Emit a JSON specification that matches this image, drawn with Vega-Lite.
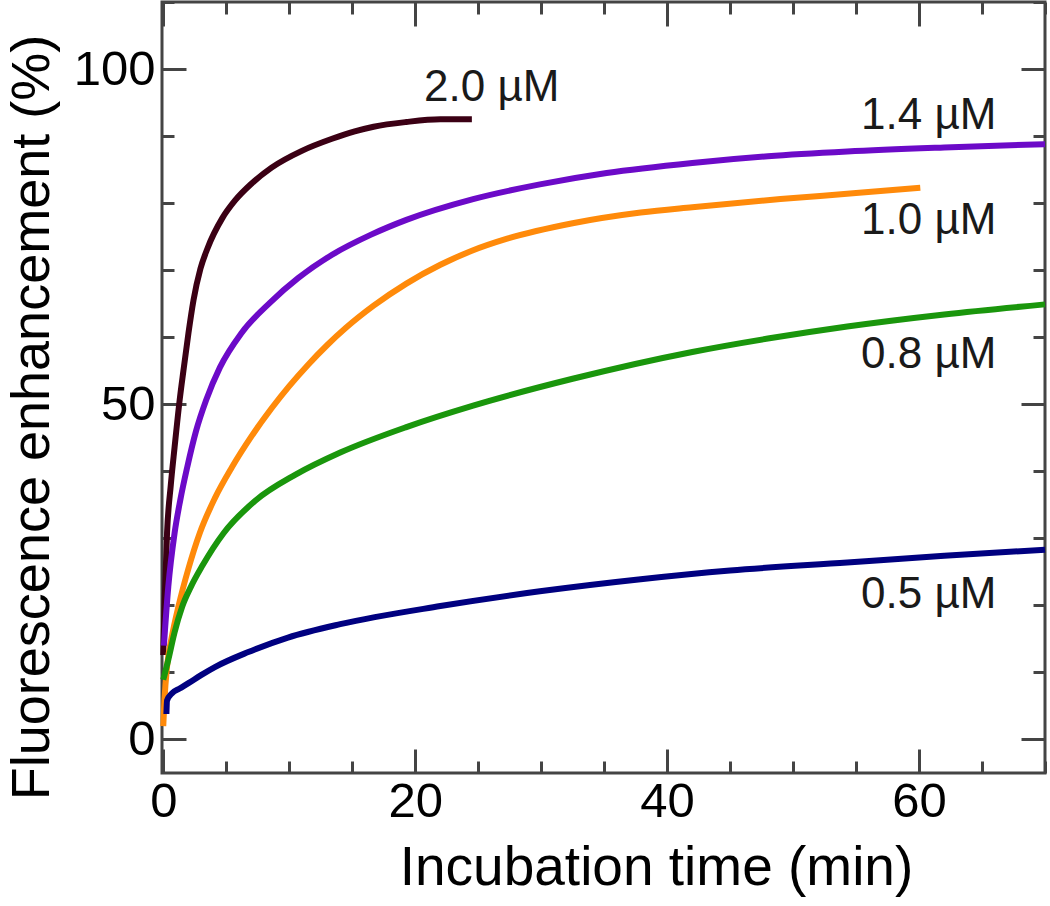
{
  "$schema": "https://vega.github.io/schema/vega-lite/v6.json",
  "width": 883,
  "height": 771,
  "autosize": "none",
  "padding": {"left": 162, "top": 2, "right": 5, "bottom": 133},
  "background": "white",
  "config": {
    "view": {"stroke": "#444444", "strokeWidth": 3},
    "axis": {
      "grid": false,
      "domain": false,
      "tickColor": "#444444",
      "tickWidth": 3,
      "labelFont": "Liberation Sans",
      "labelFontSize": 49,
      "labelColor": "#000000",
      "titleFont": "Liberation Sans",
      "titleFontSize": 55,
      "titleFontWeight": "normal",
      "titleColor": "#000000"
    }
  },
  "datasets": {
    "curves": [
      {"conc": "2.0 µM", "t": 0.0, "v": 12.6},
      {"conc": "2.0 µM", "t": 0.1, "v": 20.0},
      {"conc": "2.0 µM", "t": 0.3, "v": 30.8},
      {"conc": "2.0 µM", "t": 0.6, "v": 38.0},
      {"conc": "2.0 µM", "t": 0.9, "v": 43.6},
      {"conc": "2.0 µM", "t": 1.3, "v": 50.6},
      {"conc": "2.0 µM", "t": 1.6, "v": 55.0},
      {"conc": "2.0 µM", "t": 2.0, "v": 60.6},
      {"conc": "2.0 µM", "t": 2.4, "v": 65.5},
      {"conc": "2.0 µM", "t": 2.95, "v": 70.2},
      {"conc": "2.0 µM", "t": 3.5, "v": 73.2},
      {"conc": "2.0 µM", "t": 4.7, "v": 77.8},
      {"conc": "2.0 µM", "t": 5.7, "v": 80.4},
      {"conc": "2.0 µM", "t": 7.0, "v": 82.9},
      {"conc": "2.0 µM", "t": 8.6, "v": 85.3},
      {"conc": "2.0 µM", "t": 11.0, "v": 87.8},
      {"conc": "2.0 µM", "t": 13.4, "v": 89.6},
      {"conc": "2.0 µM", "t": 15.2, "v": 90.7},
      {"conc": "2.0 µM", "t": 16.7, "v": 91.4},
      {"conc": "2.0 µM", "t": 19.3, "v": 92.1},
      {"conc": "2.0 µM", "t": 22.0, "v": 92.5},
      {"conc": "2.0 µM", "t": 24.5, "v": 92.5},

      {"conc": "1.4 µM", "t": 0.05, "v": 14.0},
      {"conc": "1.4 µM", "t": 0.4, "v": 22.8},
      {"conc": "1.4 µM", "t": 0.9, "v": 30.8},
      {"conc": "1.4 µM", "t": 1.35, "v": 35.7},
      {"conc": "1.4 µM", "t": 1.9, "v": 40.6},
      {"conc": "1.4 µM", "t": 2.6, "v": 46.0},
      {"conc": "1.4 µM", "t": 3.4, "v": 50.6},
      {"conc": "1.4 µM", "t": 4.5, "v": 55.5},
      {"conc": "1.4 µM", "t": 6.2, "v": 60.6},
      {"conc": "1.4 µM", "t": 8.5, "v": 65.2},
      {"conc": "1.4 µM", "t": 10.7, "v": 68.8},
      {"conc": "1.4 µM", "t": 13.4, "v": 72.3},
      {"conc": "1.4 µM", "t": 16.5, "v": 75.3},
      {"conc": "1.4 µM", "t": 19.3, "v": 77.5},
      {"conc": "1.4 µM", "t": 24.6, "v": 80.6},
      {"conc": "1.4 µM", "t": 29.9, "v": 82.8},
      {"conc": "1.4 µM", "t": 35.2, "v": 84.5},
      {"conc": "1.4 µM", "t": 42.0, "v": 86.0},
      {"conc": "1.4 µM", "t": 48.0, "v": 87.0},
      {"conc": "1.4 µM", "t": 54.3, "v": 87.7},
      {"conc": "1.4 µM", "t": 62.0, "v": 88.3},
      {"conc": "1.4 µM", "t": 70.0, "v": 88.8},

      {"conc": "1.0 µM", "t": 0.0, "v": 2.0},
      {"conc": "1.0 µM", "t": 0.1, "v": 6.0},
      {"conc": "1.0 µM", "t": 0.3, "v": 10.9},
      {"conc": "1.0 µM", "t": 0.7, "v": 15.5},
      {"conc": "1.0 µM", "t": 1.2, "v": 19.8},
      {"conc": "1.0 µM", "t": 2.0, "v": 25.5},
      {"conc": "1.0 µM", "t": 2.9, "v": 30.8},
      {"conc": "1.0 µM", "t": 4.1, "v": 36.0},
      {"conc": "1.0 µM", "t": 5.45, "v": 40.6},
      {"conc": "1.0 µM", "t": 7.0, "v": 45.2},
      {"conc": "1.0 µM", "t": 8.6, "v": 49.4},
      {"conc": "1.0 µM", "t": 10.0, "v": 52.7},
      {"conc": "1.0 µM", "t": 11.5, "v": 55.9},
      {"conc": "1.0 µM", "t": 13.0, "v": 58.8},
      {"conc": "1.0 µM", "t": 14.5, "v": 61.4},
      {"conc": "1.0 µM", "t": 16.7, "v": 64.7},
      {"conc": "1.0 µM", "t": 19.3, "v": 68.0},
      {"conc": "1.0 µM", "t": 22.0, "v": 70.8},
      {"conc": "1.0 µM", "t": 24.5, "v": 72.9},
      {"conc": "1.0 µM", "t": 27.3, "v": 74.7},
      {"conc": "1.0 µM", "t": 32.5, "v": 77.0},
      {"conc": "1.0 µM", "t": 37.9, "v": 78.6},
      {"conc": "1.0 µM", "t": 42.0, "v": 79.4},
      {"conc": "1.0 µM", "t": 49.0, "v": 80.6},
      {"conc": "1.0 µM", "t": 55.0, "v": 81.5},
      {"conc": "1.0 µM", "t": 60.1, "v": 82.3},

      {"conc": "0.8 µM", "t": 0.0, "v": 8.9},
      {"conc": "0.8 µM", "t": 0.4, "v": 11.9},
      {"conc": "0.8 µM", "t": 0.9, "v": 16.0},
      {"conc": "0.8 µM", "t": 1.5, "v": 19.8},
      {"conc": "0.8 µM", "t": 2.2, "v": 22.8},
      {"conc": "0.8 µM", "t": 3.1, "v": 25.9},
      {"conc": "0.8 µM", "t": 4.8, "v": 30.8},
      {"conc": "0.8 µM", "t": 7.3, "v": 35.6},
      {"conc": "0.8 µM", "t": 10.5, "v": 39.5},
      {"conc": "0.8 µM", "t": 14.05, "v": 42.8},
      {"conc": "0.8 µM", "t": 19.3, "v": 46.6},
      {"conc": "0.8 µM", "t": 24.6, "v": 49.8},
      {"conc": "0.8 µM", "t": 32.5, "v": 53.8},
      {"conc": "0.8 µM", "t": 42.0, "v": 57.8},
      {"conc": "0.8 µM", "t": 48.0, "v": 59.8},
      {"conc": "0.8 µM", "t": 54.3, "v": 61.6},
      {"conc": "0.8 µM", "t": 62.0, "v": 63.4},
      {"conc": "0.8 µM", "t": 70.0, "v": 64.9},

      {"conc": "0.5 µM", "t": 0.25, "v": 3.8},
      {"conc": "0.5 µM", "t": 0.3, "v": 5.8},
      {"conc": "0.5 µM", "t": 0.7, "v": 6.9},
      {"conc": "0.5 µM", "t": 1.3, "v": 7.6},
      {"conc": "0.5 µM", "t": 2.0, "v": 8.4},
      {"conc": "0.5 µM", "t": 3.0, "v": 9.6},
      {"conc": "0.5 µM", "t": 4.1, "v": 10.8},
      {"conc": "0.5 µM", "t": 6.7, "v": 13.0},
      {"conc": "0.5 µM", "t": 9.9, "v": 15.2},
      {"conc": "0.5 µM", "t": 14.05, "v": 17.2},
      {"conc": "0.5 µM", "t": 22.0, "v": 19.9},
      {"conc": "0.5 µM", "t": 29.9, "v": 22.1},
      {"conc": "0.5 µM", "t": 37.9, "v": 23.9},
      {"conc": "0.5 µM", "t": 45.0, "v": 25.2},
      {"conc": "0.5 µM", "t": 54.3, "v": 26.4},
      {"conc": "0.5 µM", "t": 62.0, "v": 27.4},
      {"conc": "0.5 µM", "t": 70.0, "v": 28.3}
    ],
    "labels": [
      {"label": "2.0 µM", "t": 20.7, "v": 95.2},
      {"label": "1.4 µM", "t": 55.4, "v": 91.0},
      {"label": "1.0 µM", "t": 55.4, "v": 75.4},
      {"label": "0.8 µM", "t": 55.4, "v": 55.4},
      {"label": "0.5 µM", "t": 55.4, "v": 19.6}
    ]
  },
  "layer": [
    {
      "data": {"name": "curves"},
      "mark": {"type": "line", "strokeWidth": 6, "interpolate": "monotone"},
      "encoding": {
        "x": {
          "field": "t", "type": "quantitative",
          "scale": {"domain": [-0.1, 70], "nice": false, "zero": false},
          "axis": {
            "orient": "bottom", "values": [0, 20, 40, 60], "tickSize": -24,
            "labelPadding": 28, "title": "Incubation time (min)",
            "titleX": 494, "titleY": 111, "titleAlign": "center", "titleBaseline": "alphabetic", "titleAnchor": null
          }
        },
        "y": {
          "field": "v", "type": "quantitative",
          "scale": {"domain": [-5, 110], "nice": false, "zero": false},
          "axis": {
            "orient": "left", "values": [0, 50, 100], "tickSize": -24,
            "labelPadding": 31, "title": "Fluorescence enhancement (%)",
            "titleAngle": -90, "titleX": -114, "titleY": 415, "titleFontSize": 54, "titleAlign": "center", "titleBaseline": "alphabetic"
          }
        },
        "color": {
          "field": "conc", "type": "nominal",
          "scale": {
            "domain": ["0.5 µM", "0.8 µM", "1.4 µM", "2.0 µM", "1.0 µM"],
            "range": ["#000080", "#1a960c", "#6c0ac8", "#3b0014", "#ff8a0a"]
          },
          "legend": null
        }
      }
    },
    {
      "data": {"name": "curves"},
      "mark": {"type": "point", "opacity": 0},
      "encoding": {
        "x": {
          "field": "t", "type": "quantitative",
          "axis": {"orient": "bottom", "values": [0, 5, 10, 15, 20, 25, 30, 35, 40, 45, 50, 55, 60, 65, 70], "tickSize": -12, "labels": false, "title": null}
        },
        "y": {
          "field": "v", "type": "quantitative",
          "axis": {"orient": "left", "values": [0, 10, 20, 30, 40, 50, 60, 70, 80, 90, 100, 110], "tickSize": -12, "labels": false, "title": null}
        }
      }
    },
    {
      "data": {"name": "curves"},
      "mark": {"type": "point", "opacity": 0},
      "encoding": {
        "x": {
          "field": "t", "type": "quantitative",
          "axis": {"orient": "top", "values": [0, 20, 40, 60], "tickSize": -24, "labels": false, "title": null}
        },
        "y": {
          "field": "v", "type": "quantitative",
          "axis": {"orient": "right", "values": [0, 50, 100], "tickSize": -24, "labels": false, "title": null}
        }
      }
    },
    {
      "data": {"name": "curves"},
      "mark": {"type": "point", "opacity": 0},
      "encoding": {
        "x": {
          "field": "t", "type": "quantitative",
          "axis": {"orient": "top", "values": [0, 5, 10, 15, 20, 25, 30, 35, 40, 45, 50, 55, 60, 65, 70], "tickSize": -12, "labels": false, "title": null}
        },
        "y": {
          "field": "v", "type": "quantitative",
          "axis": {"orient": "right", "values": [0, 10, 20, 30, 40, 50, 60, 70, 80, 90, 100, 110], "tickSize": -12, "labels": false, "title": null}
        }
      }
    },
    {
      "data": {"name": "labels"},
      "mark": {"type": "text", "align": "left", "baseline": "alphabetic", "font": "Liberation Sans", "fontSize": 44, "color": "#1a1a1a"},
      "encoding": {
        "x": {"field": "t", "type": "quantitative", "axis": null},
        "y": {"field": "v", "type": "quantitative", "axis": null},
        "text": {"field": "label"}
      }
    }
  ],
  "resolve": {"axis": {"x": "independent", "y": "independent"}}
}
